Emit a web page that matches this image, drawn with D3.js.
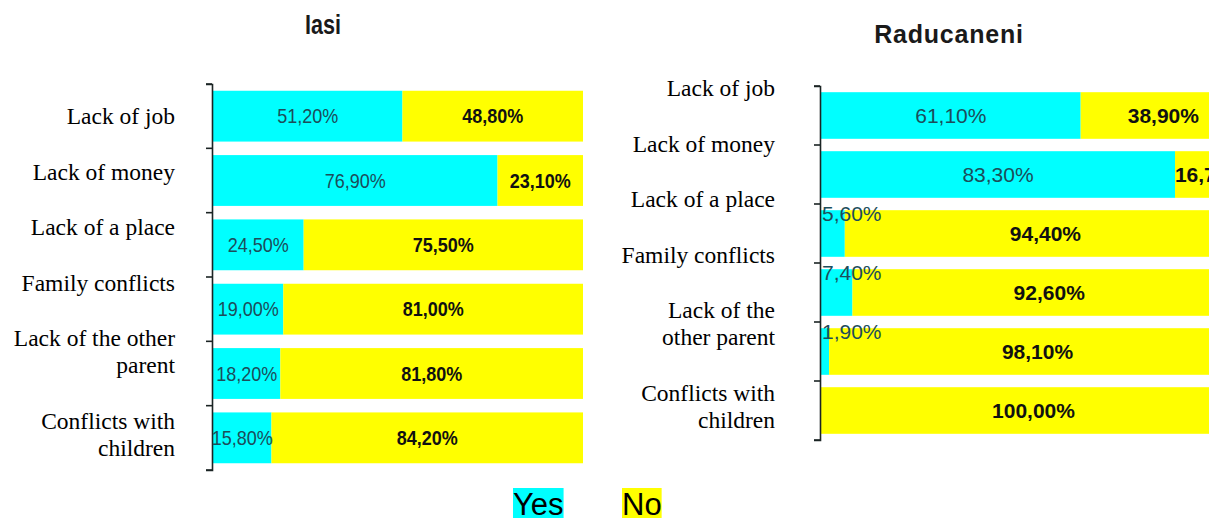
<!DOCTYPE html>
<html>
<head>
<meta charset="utf-8">
<script src="https://cdn.jsdelivr.net/npm/d3@7"></script>
<style>
  html, body { margin: 0; padding: 0; background: #fff; }
  svg { display: block; }
</style>
</head>
<body>
<svg id="chart" width="1209" height="518"></svg>
<script>
// Reasons, answered Yes / No (percent of respondents)
const categories = ["Lack of job", "Lack of money", "Lack of a place", "Family conflicts", "Lack of the other parent", "Conflicts with children"];
const labelLinesIasi = [["Lack of job"], ["Lack of money"], ["Lack of a place"], ["Family conflicts"], ["Lack of the other", "parent"], ["Conflicts with", "children"]];
const labelLinesRaducaneni = [["Lack of job"], ["Lack of money"], ["Lack of a place"], ["Family conflicts"], ["Lack of the", "other parent"], ["Conflicts with", "children"]];

const yesIasi = [51.2, 76.9, 24.5, 19.0, 18.2, 15.8];
const noIasi = [48.8, 23.1, 75.5, 81.0, 81.8, 84.2];
const yesRaducaneni = [61.1, 83.3, 5.6, 7.4, 1.9, 0];
const noRaducaneni = [38.9, 16.7, 94.4, 92.6, 98.1, 100.0];

const seriesNames = ["Yes", "No"];
const colors = { Yes: "#00FFFF", No: "#FFFF00" };

const svg = d3.select("#chart");
const fmt = v => v.toFixed(2).replace(".", ",") + "%";

function drawPanel(opt) {
  const g = svg.append("g");
  const x = d3.scaleLinear().domain([0, 100]).range([opt.x0, opt.x1]);
  const y = d3.scaleBand().domain(categories).range([opt.y0, opt.y1])
    .paddingInner(0.21).paddingOuter(0.105);

  const rows = categories.map((c, i) => ({ cat: c, Yes: opt.yes[i], No: opt.no[i] }));
  const stacked = d3.stack().keys(seriesNames)(rows);

  // stacked segments
  stacked.forEach(layer => {
    g.append("g").selectAll("rect").data(layer).join("rect")
      .attr("x", d => x(d[0]))
      .attr("y", d => y(d.data.cat))
      .attr("width", d => x(d[1]) - x(d[0]))
      .attr("height", y.bandwidth())
      .attr("fill", colors[layer.key]);
  });

  // category axis
  const axis = d3.axisLeft(y).tickSizeInner(0).tickSizeOuter(6).tickFormat("");
  const ax = g.append("g").attr("transform", `translate(${opt.x0 - 1},0)`).call(axis);
  ax.select(".domain").attr("stroke", "#1b2424").attr("stroke-width", 1.6);
  // tick marks at the band boundaries
  const bounds = categories.map(c => y(c) - y.step() * y.paddingInner() / 2).concat([opt.y1]);
  g.append("g").selectAll("line").data(bounds).join("line")
    .attr("x1", opt.x0 - 7).attr("x2", opt.x0 - 1)
    .attr("y1", d => d).attr("y2", d => d)
    .attr("stroke", "#1b2424").attr("stroke-width", 1.6);

  // value labels
  stacked.forEach(layer => {
    layer.forEach(d => {
      const v = d.data[layer.key];
      if (v <= 0) return;
      const w = x(d[1]) - x(d[0]);
      const narrow = w < 40;
      const tx = narrow ? x(d[0]) + 1 : (x(d[0]) + x(d[1])) / 2;
      const ty = narrow ? y(d.data.cat) + 3 : y(d.data.cat) + y.bandwidth() / 2;
      const t = g.append("text")
        .attr("transform", `translate(${tx},${ty}) scale(${opt.valueScaleX},1)`)
        .attr("text-anchor", narrow ? "start" : "middle")
        .attr("dy", "0.36em")
        .attr("font-family", "'Liberation Sans', Arial, sans-serif")
        .attr("font-size", opt.valueSize)
        .text(fmt(v));
      if (layer.key === "Yes") t.attr("fill", "#1c4d5a");
      else t.attr("fill", "#111").attr("font-weight", "bold");
    });
  });

  // category labels, stacked line by line
  let base = opt.labelTop;
  opt.labelLines.forEach(lines => {
    const t = g.append("text")
      .attr("x", opt.labelRight)
      .attr("text-anchor", "end")
      .attr("font-family", "'Liberation Serif', 'Times New Roman', serif")
      .attr("font-size", 23.5)
      .attr("fill", "#000");
    lines.forEach((ln, j) => {
      t.append("tspan").attr("x", opt.labelRight).attr("y", base + j * 27).text(ln);
    });
    base += (lines.length - 1) * 27 + 55.5;
  });

  // panel title
  svg.append("text")
    .attr("transform", `translate(${opt.titleX},${opt.titleY}) scale(${opt.titleScaleX},1)`)
    .attr("text-anchor", "middle")
    .attr("font-family", "'Liberation Sans', Arial, sans-serif")
    .attr("font-weight", "bold")
    .attr("font-size", opt.titleSize)
    .attr("letter-spacing", opt.titleSpacing)
    .attr("fill", "#1a1a1a")
    .text(opt.title);
}

drawPanel({
  title: "Iasi", titleX: 323, titleY: 34, titleSize: 27, titleScaleX: 0.8, titleSpacing: 0,
  yes: yesIasi, no: noIasi, labelLines: labelLinesIasi,
  x0: 213, x1: 583, y0: 84, y1: 470,
  valueSize: 20, valueScaleX: 0.9,
  labelRight: 175, labelTop: 124
});

drawPanel({
  title: "Raducaneni", titleX: 949, titleY: 43, titleSize: 25, titleScaleX: 1, titleSpacing: 0.8,
  yes: yesRaducaneni, no: noRaducaneni, labelLines: labelLinesRaducaneni,
  x0: 821, x1: 1246, y0: 86, y1: 440,
  valueSize: 21, valueScaleX: 1,
  labelRight: 775, labelTop: 96
});

// legend
const legend = svg.append("g");
const legendX = [513, 622];
seriesNames.forEach((name, i) => {
  const t = legend.append("text")
    .attr("x", legendX[i]).attr("y", 515)
    .attr("font-family", "'Liberation Sans', Arial, sans-serif")
    .attr("font-size", 31)
    .attr("fill", "#000")
    .text(name);
  const bb = t.node().getBBox();
  legend.insert("rect", "text")
    .attr("x", bb.x).attr("y", 488)
    .attr("width", bb.width).attr("height", 30)
    .attr("fill", colors[name]);
});
</script>
</body>
</html>
